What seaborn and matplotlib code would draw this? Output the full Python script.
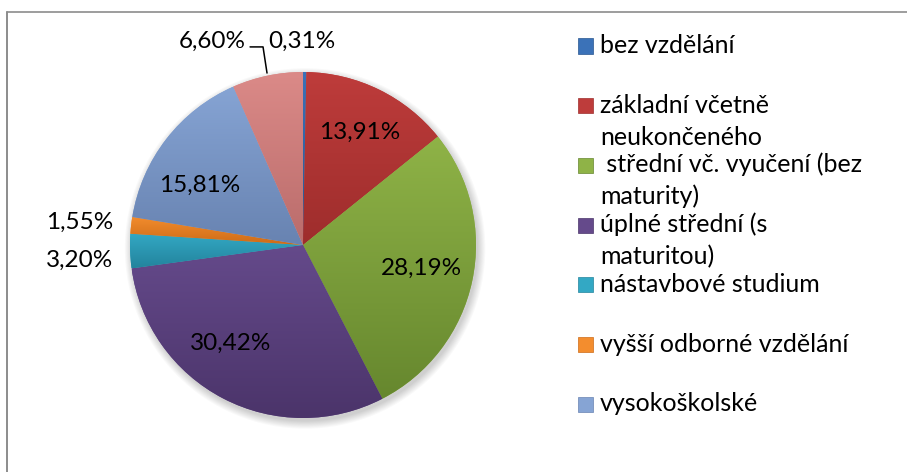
import numpy as np
import matplotlib
matplotlib.use("Agg")
import matplotlib.pyplot as plt
import seaborn as sns
from matplotlib.colors import LinearSegmentedColormap
from matplotlib.patches import Circle, Rectangle
from matplotlib.lines import Line2D

# data
categories = ["bez vzdělání", "základní včetně\nneukončeného",
              " střední vč. vyučení (bez\nmaturity)", "úplné střední (s\nmaturitou)",
              "nástavbové studium", "vyšší odborné vzdělání", "vysokoškolské", "nezjištěno"]
shares = [0.31, 13.91, 28.19, 30.42, 3.20, 1.55, 15.81, 6.60]
pct_labels = ["0,31%", "13,91%", "28,19%", "30,42%", "3,20%", "1,55%", "15,81%", "6,60%"]
n_legend = 7  # last entry does not fit into the legend box

# colours (top / bottom of the shading)
light = ["#3B72B8", "#BE3C3B", "#8FB347", "#654A8B", "#33A8C4", "#F38D2E", "#86A4D4", "#DB8A88"]
dark = ["#28568F", "#9E2D2C", "#66872E", "#4B346A", "#23849D", "#CD6B17", "#6883B1", "#BA6C6B"]

# label layout in pie units (radius 1)
label_xy = [(-0.006, 1.179), (0.329, 0.653), (0.682, -0.133), (-0.416, -0.566),
            (-1.289, -0.087), (-1.289, 0.133), (-0.595, 0.347), (-0.526, 1.179)]

sns.set_theme(style="white")
plt.rcParams['font.family'] = ['Lato', 'DejaVu Sans']

W, H = 907, 472
fig = plt.figure(figsize=(W / 100, H / 100), dpi=100)
fig.patch.set_facecolor("white")

# pie axes: centre at (303, 245) px, radius 173 px
R, cx, cy = 173.0, 303.0, 245.0
ax = fig.add_axes([0, 0, 2 * cx / W, 2 * (H - cy) / H])

# soft shadow
for i in range(8):
    ax.add_patch(Circle((0.012, -0.02), 1.0 + 0.006 * i, color="black", alpha=0.025,
                        lw=0, zorder=0))

wedges, _ = ax.pie(shares, colors=light, startangle=90, counterclock=False,
                   wedgeprops=dict(linewidth=0))
grad = np.linspace(0, 1, 256).reshape(-1, 1)
for w, c1, c2 in zip(wedges, light, dark):
    w.set_zorder(2)
    bb = w.get_path().get_extents()
    cmap = LinearSegmentedColormap.from_list("g", [c1, c2])
    im = ax.imshow(grad, cmap=cmap, extent=[bb.x0, bb.x1, bb.y0, bb.y1],
                   origin="upper", aspect="auto", zorder=3, interpolation="bilinear")
    im.set_clip_path(w)

ax.set_xlim(-cx / R, cx / R)
ax.set_ylim(-(H - cy) / R, (H - cy) / R)
ax.set_aspect("auto")
ax.axis("off")

for txt, (x, y) in zip(pct_labels, label_xy):
    ax.text(x, y, txt, ha="center", va="center", fontsize=17.5, color="black", zorder=5)

# leader line for the small 0,31% slice label
ax.plot([-0.306, -0.231, -0.208], [1.145, 1.145, 0.994], color="black", lw=1.1,
        zorder=5, clip_on=False)

# legend
def fx(px):
    return px / W


def fy(py):
    return 1 - py / H


for i in range(n_legend):
    my = 46 + i * 59.7
    fig.patches.append(Rectangle((fx(578), fy(my + 7.5)), 15 / W, 15 / H,
                                 transform=fig.transFigure, figure=fig,
                                 facecolor=light[i], edgecolor=dark[i], lw=0.5))
    for j, line in enumerate(categories[i].split("\n")):
        fig.text(fx(600), fy(my + 7 + j * 32), line, ha="left", va="baseline",
                 fontsize=18, color="black")

# chart frame (only top and left edges are visible)
fig.lines.append(Line2D([fx(7), 1], [fy(12), fy(12)], transform=fig.transFigure,
                        color="#8c8c8c", lw=1.2))
fig.lines.append(Line2D([fx(7), fx(7)], [fy(12), 0], transform=fig.transFigure,
                        color="#8c8c8c", lw=1.4))

fig.savefig("out.png", dpi=100, facecolor="white")
